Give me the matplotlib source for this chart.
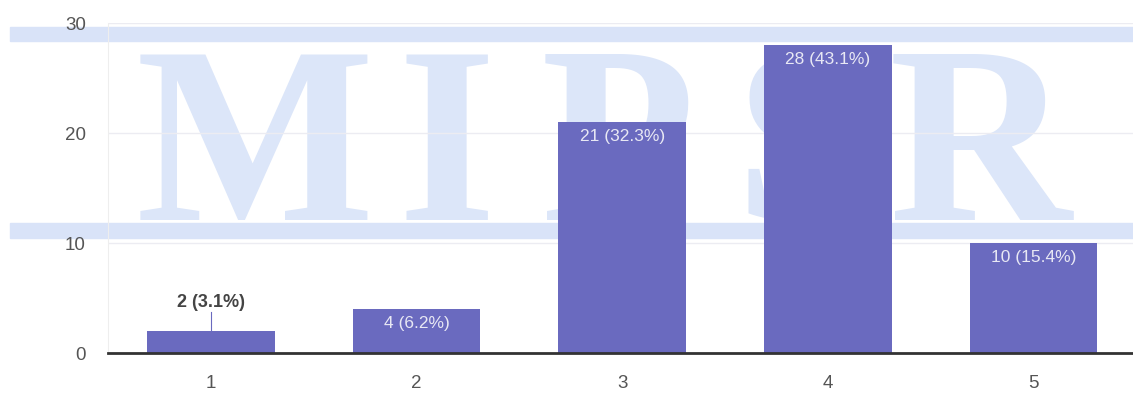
import matplotlib.pyplot as plt

plt.rcParams["font.family"] = ["Liberation Sans", "DejaVu Sans"]

categories = ["1", "2", "3", "4", "5"]
counts = [2, 4, 21, 28, 10]
percents = ["3.1%", "6.2%", "32.3%", "43.1%", "15.4%"]
yticks = [0, 10, 20, 30]

BAR_COLOR = "#6a6abf"
W, H = 1133, 394

fig = plt.figure(figsize=(W / 100, H / 100), dpi=100)

# scanned watermark behind the chart
for y0, y1 in [(27, 41), (223, 238)]:
    fig.patches.append(plt.Rectangle((10 / W, 1 - y1 / H), 1, (y1 - y0) / H,
                                     transform=fig.transFigure, color="#d9e3f8",
                                     zorder=0))
for letter, xc in zip("MIPSR", [255, 447, 618, 805, 980]):
    fig.text(xc / W, 1 - 220 / H, letter, ha="center", va="baseline",
             family="Liberation Serif", fontweight="bold", fontsize=182,
             color="#dce6f9", zorder=0)

ax = fig.add_axes([108 / W, 1 - 353 / H, (W - 108) / W + 0.003, 330 / H])
ax.set_zorder(2)
ax.patch.set_alpha(0)

x = range(len(categories))
bars = ax.bar(x, counts, width=0.62, color=BAR_COLOR, zorder=2)

for i, (c, p) in enumerate(zip(counts, percents)):
    label = f"{c} ({p})"
    if c < 3:
        ax.plot([i, i], [c, c + 1.7], color=BAR_COLOR, lw=0.8, zorder=2)
        ax.text(i, c + 1.8, label, ha="center", va="bottom", fontsize=13,
                color="#444444", fontweight="bold")
    else:
        ax.text(i, c - 0.6, label, ha="center", va="top", fontsize=12.5,
                color="#e8e8f4")

ax.set_xlim(-0.5, 4.5)
ax.set_ylim(0, 30)
ax.set_yticks(yticks)
ax.set_xticks(list(x))
ax.set_xticklabels(categories)
ax.tick_params(length=0, labelsize=13.5, colors="#555555")
ax.tick_params(axis="y", pad=16)
ax.tick_params(axis="x", pad=16)
ax.yaxis.grid(True, color="#ececf2", lw=1, zorder=0)
for s in ["top", "right"]:
    ax.spines[s].set_visible(False)
ax.spines["left"].set_color("#eeeeee")
ax.spines["bottom"].set_color("#333333")
ax.spines["bottom"].set_linewidth(2)
ax.spines["bottom"].set_zorder(3)

fig.savefig("out.png", dpi=100)
